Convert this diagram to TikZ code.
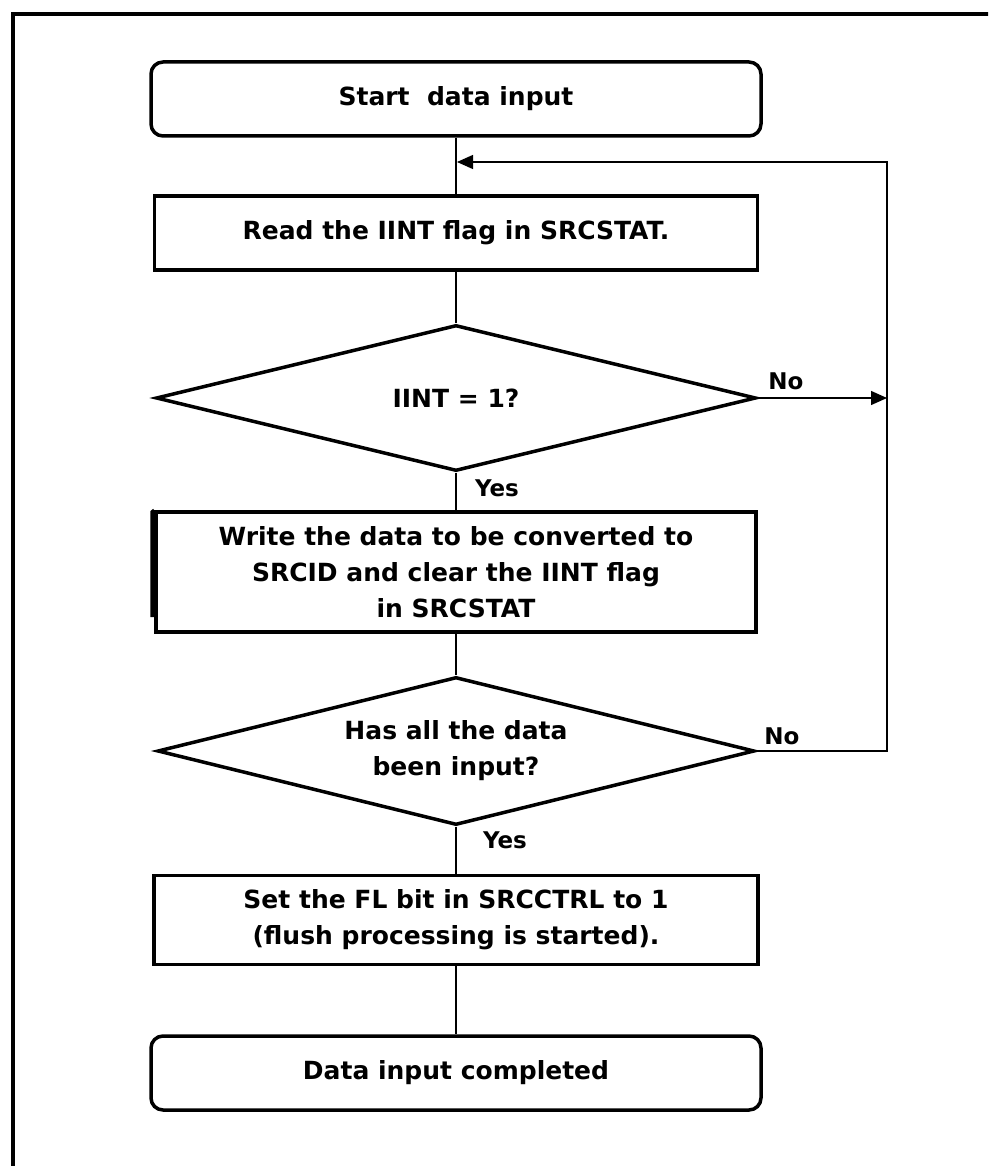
\documentclass[tikz,border=0pt]{standalone}
\usepackage{fontspec}
\setmainfont{DejaVu Sans}
\usetikzlibrary{shapes.geometric,arrows.meta}
\tikzset{
  boxline/.style={draw,line width=3.5pt,align=center,inner sep=0pt,font=\fontsize{25}{36}\selectfont\bfseries},
  proc/.style={boxline,rectangle},
  term/.style={boxline,rectangle,rounded corners=12pt},
  decide/.style={boxline,diamond,aspect=4},
  conn/.style={line width=1.3pt},
  arr/.style={conn,-{Triangle[length=16pt,width=14pt]}},
  lbl/.style={inner sep=0pt,font=\fontsize{23}{28}\selectfont\bfseries}
}
\begin{document}
\begin{tikzpicture}[x=1pt,y=-1pt]
    \useasboundingbox (0,0) rectangle (988,1166);
    \clip (0,0) rectangle (988,1166);
    % 外框
    \draw[line width=4pt] (13,1190) -- (13,14) -- (1010,14);

    % 流程框
    \node[term,minimum width=610pt,minimum height=74pt] (start) at (456,99) {Start\ \ data input};
    \node[proc,minimum width=603pt,minimum height=74pt] (read) at (456,233) {Read the IINT flag in SRCSTAT.};
    \node[decide,minimum width=600pt,minimum height=146pt] (iint) at (456,398) {IINT = 1?};
    \node[proc,minimum width=600pt,minimum height=120pt] (write) at (456,572)
        {Write the data to be converted to\\SRCID and clear the IINT flag\\in SRCSTAT};
    \draw[line width=3.5pt] (write.north west) -- (152,512) -- (152,617);
    \node[decide,minimum width=597pt,minimum height=148pt] (alldone) at (456,751)
        {Has all the data\\been input?};
    \node[proc,minimum width=604pt,minimum height=89pt] (flush) at (456,920)
        {Set the FL bit in SRCCTRL to 1\\(flush processing is started).};
    \node[term,minimum width=610pt,minimum height=74pt] (done) at (456,1073) {Data input completed};

    % 回路的拐点
    \coordinate (rtop) at (887,162);
    \coordinate (rmid) at (887,398);
    \coordinate (rbot) at (887,751);
    \coordinate (join) at (457,162);

    % 连线
    \draw[conn] (start) -- (read);
    \draw[conn] (read) -- (iint);
    \draw[conn] (iint) -- (write);
    \draw[conn] (write) -- (alldone);
    \draw[conn] (alldone) -- (flush);
    \draw[conn] (flush) -- (done);
    \draw[arr] (iint.east) -- (rmid);
    \draw[arr] (alldone.east) -- (rbot) -- (rtop) -- (join);

    \node[lbl] (no1) at (786,381) {No};
    \node[lbl] (yes1) at (497,488) {Yes};
    \node[lbl] (no2) at (782,736) {No};
    \node[lbl] (yes2) at (505,840) {Yes};
\end{tikzpicture}
\end{document}
